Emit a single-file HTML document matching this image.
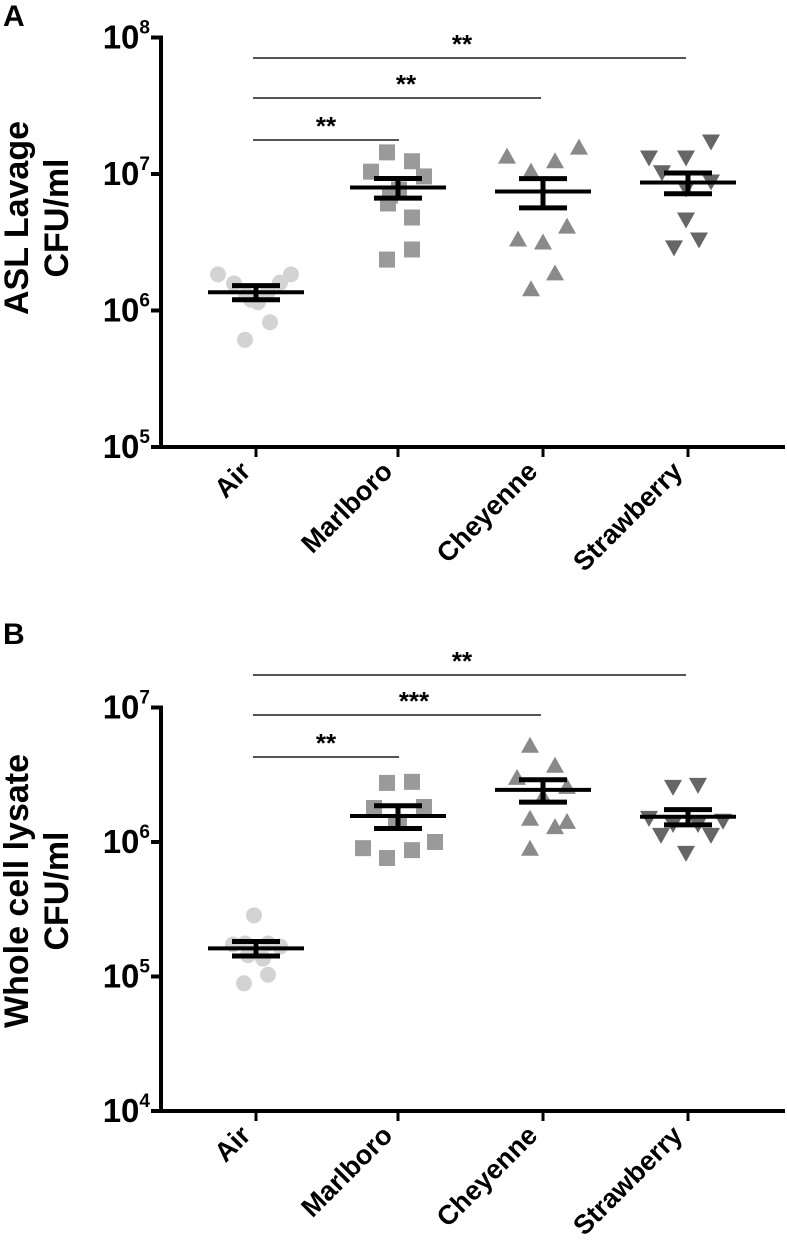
<!DOCTYPE html>
<html><head><meta charset="utf-8"><style>
html,body{margin:0;padding:0;background:#fff}
svg{display:block;font-family:"Liberation Sans",Arial,sans-serif}
</style></head><body>
<svg id="c" width="787" height="1243" viewBox="0 0 787 1243"></svg>
<script>
const categories=["Air","Marlboro","Cheyenne","Strawberry"];
// Panel A (ASL lavage, CFU/ml)
const aAir=[1.84e6,1.58e6,1.31e6,1.20e6,1.15e6,1.38e6,1.60e6,1.84e6,0.82e6,0.61e6];
const aMarlboro=[14.4e6,10.4e6,12.4e6,9.6e6,7.7e6,6.95e6,6.08e6,4.8e6,2.8e6,2.36e6];
const aCheyenne=[13.4e6,15.6e6,12.4e6,10.4e6,4.12e6,3.31e6,3.15e6,1.87e6,1.43e6];
const aStrawberry=[13.2e6,17.3e6,13.2e6,10.3e6,7.83e6,8.81e6,4.64e6,3.31e6,2.9e6];
const aMeans=[1.36e6,7.96e6,7.45e6,8.67e6];
const aSems=[0.16e6,1.3e6,1.8e6,1.5e6];
// Panel B (whole cell lysate, CFU/ml)
const bAir=[2.85e5,1.73e5,1.76e5,1.76e5,1.67e5,1.44e5,1.36e5,1.03e5,0.89e5];
const bMarlboro=[27.5e5,28.0e5,17.9e5,18.2e5,14.1e5,13.9e5,9.0e5,10.0e5,8.7e5,7.6e5];
const bCheyenne=[52e5,36.9e5,30.0e5,25.7e5,21.7e5,14.9e5,12.9e5,14.1e5,8.9e5];
const bStrawberry=[25.7e5,26.6e5,15.1e5,13.6e5,13.6e5,14.4e5,11.3e5,11.3e5,8.3e5];
const bMeans=[1.62e5,15.6e5,24.4e5,15.4e5];
const bSems=[0.2e5,3e5,4.6e5,2e5];
const aTicks=[5,6,7,8];
const bTicks=[4,5,6,7];
const aStars=["**","**","**"];
const bStars=["**","***","**"];

// jitter offsets (layout)
const jA=[[-38,-22,-10,-5,2,12,24,35,14,-11],[-11,-27,14,26,1,-8,-10,14,14,-11],[-36,36,12,-12,24,-25,0,12,-12],[-39,23,-2,-26,-2,23,-2,11,-14]];
const jB=[[-2,-23,-11,12,24,-8,7,12,-12],[-11,14,-24,26,1,-2,-35,37,14,-11],[-13,12,-26,24,0,-13,12,24,-13],[-15,10,-39,-15,10,35,-27,23,-2]];

const NS="http://www.w3.org/2000/svg";
const svg=document.getElementById('c');
function mk(t,a,p){const e=document.createElementNS(NS,t);for(const k in a)e.setAttribute(k,a[k]);(p||svg).appendChild(e);return e;}
const catX=[256,398,543,688];
function xPos(i){return catX[i];}

function panel(o){
  const g=mk('g',{});
  
  
  const y=v=>o.yBot-(Math.log10(v)-o.lo)*o.dec;
  const L=mk('text',{x:3,y:o.letterY,'font-size':30,'font-weight':'bold'},g);L.textContent=o.letter;
  
  
  const ya=mk('line',{x1:161,y1:y(Math.pow(10,o.ticks[o.ticks.length-1]))-2,x2:161,y2:o.yBot+2,stroke:'#000','stroke-width':4},g);
  
  
  const xa=mk('line',{x1:159,y1:o.yBot,x2:785,y2:o.yBot,stroke:'#000','stroke-width':4},g);
  
  
  o.ticks.forEach(t=>{
    const yy=y(Math.pow(10,t));
    mk('line',{x1:151,y1:yy,x2:161,y2:yy,stroke:'#000','stroke-width':4},g);
    const tx=mk('text',{x:150,y:yy+11,'text-anchor':'end','font-size':33,'font-weight':'bold'},g);
    
    
    tx.innerHTML='10<tspan font-size="19" dy="-15">'+t+'</tspan>';
  });
  const tt=mk('text',{transform:`translate(28,${o.titleY}) rotate(-90)`,'text-anchor':'middle','font-size':34,'font-weight':'bold'},g);
  
  
  tt.textContent=o.title1;
  const tt2=mk('text',{transform:`translate(68,${o.titleY}) rotate(-90)`,'text-anchor':'middle','font-size':34,'font-weight':'bold'},g);
  
  
  tt2.textContent='CFU/ml';
  categories.forEach((c,i)=>{
    const x=xPos(i);
    mk('line',{x1:x,y1:o.yBot,x2:x,y2:o.yBot+10,stroke:'#000','stroke-width':3},g);
    const lb=mk('text',{transform:`translate(${x-4},${o.yBot+26}) rotate(-45)`,'text-anchor':'end','font-size':27,'font-weight':'bold'},g);
    
    
    lb.textContent=c;
  });
  const ends=[686,541,399];
  o.stars.forEach((s,k)=>{
    const ly=o.sigY[k];
    const ln=mk('line',{x1:253,y1:ly,x2:ends[k],y2:ly,stroke:'#555','stroke-width':2},g);
    
    
    const st=mk('text',{x:[462,406,326][k]+(s.length>2?8:0),y:ly-5,'text-anchor':'middle','font-size':26,'font-weight':'bold'},g);
    
    
    st.textContent=s;
  });
  const fills=['#d3d3d3','#9a9a9a','#8a8a8a','#666'];
  o.series.forEach((arr,i)=>{
    const sg=mk('g',{},g);
    
    
    arr.forEach((v,k)=>{
      const cx=xPos(i)+(o.jit[i][k]||0), cy=y(v);
      let e;
      if(i==0) e=mk('circle',{cx,cy,r:8,fill:fills[0]},sg);
      else if(i==1) e=mk('rect',{x:cx-8,y:cy-8,width:16,height:16,fill:fills[1]},sg);
      else if(i==2) e=mk('polygon',{points:`${cx},${cy-9} ${cx-9},${cy+7} ${cx+9},${cy+7}`,fill:fills[2]},sg);
      else e=mk('polygon',{points:`${cx},${cy+9} ${cx-9},${cy-7} ${cx+9},${cy-7}`,fill:fills[3]},sg);
      
      
    });
    const m=o.means[i], s=o.sems[i], x=xPos(i);
    const my=y(m), hy=y(m+s), lyy=y(m-s);
    const eg=mk('g',{stroke:'#000'},g);
    
    
    mk('line',{x1:x-48,y1:my,x2:x+48,y2:my,'stroke-width':4},eg);
    mk('line',{x1:x,y1:hy,x2:x,y2:lyy,'stroke-width':5},eg);
    mk('line',{x1:x-24,y1:hy,x2:x+24,y2:hy,'stroke-width':5},eg);
    mk('line',{x1:x-24,y1:lyy,x2:x+24,y2:lyy,'stroke-width':5},eg);
  });
}
panel({name:'panel-a',letter:'A',letterY:26,yBot:447,lo:5,dec:136.5,ticks:aTicks,title1:'ASL Lavage',titleY:218,
  stars:aStars,sigY:[58,98,140],series:[aAir,aMarlboro,aCheyenne,aStrawberry],means:aMeans,sems:aSems,jit:jA});
panel({name:'panel-b',letter:'B',letterY:644,yBot:1111,lo:4,dec:134.5,ticks:bTicks,title1:'Whole cell lysate',titleY:891,
  stars:bStars,sigY:[675,715,757],series:[bAir,bMarlboro,bCheyenne,bStrawberry],means:bMeans,sems:bSems,jit:jB});
</script>
</body></html>
